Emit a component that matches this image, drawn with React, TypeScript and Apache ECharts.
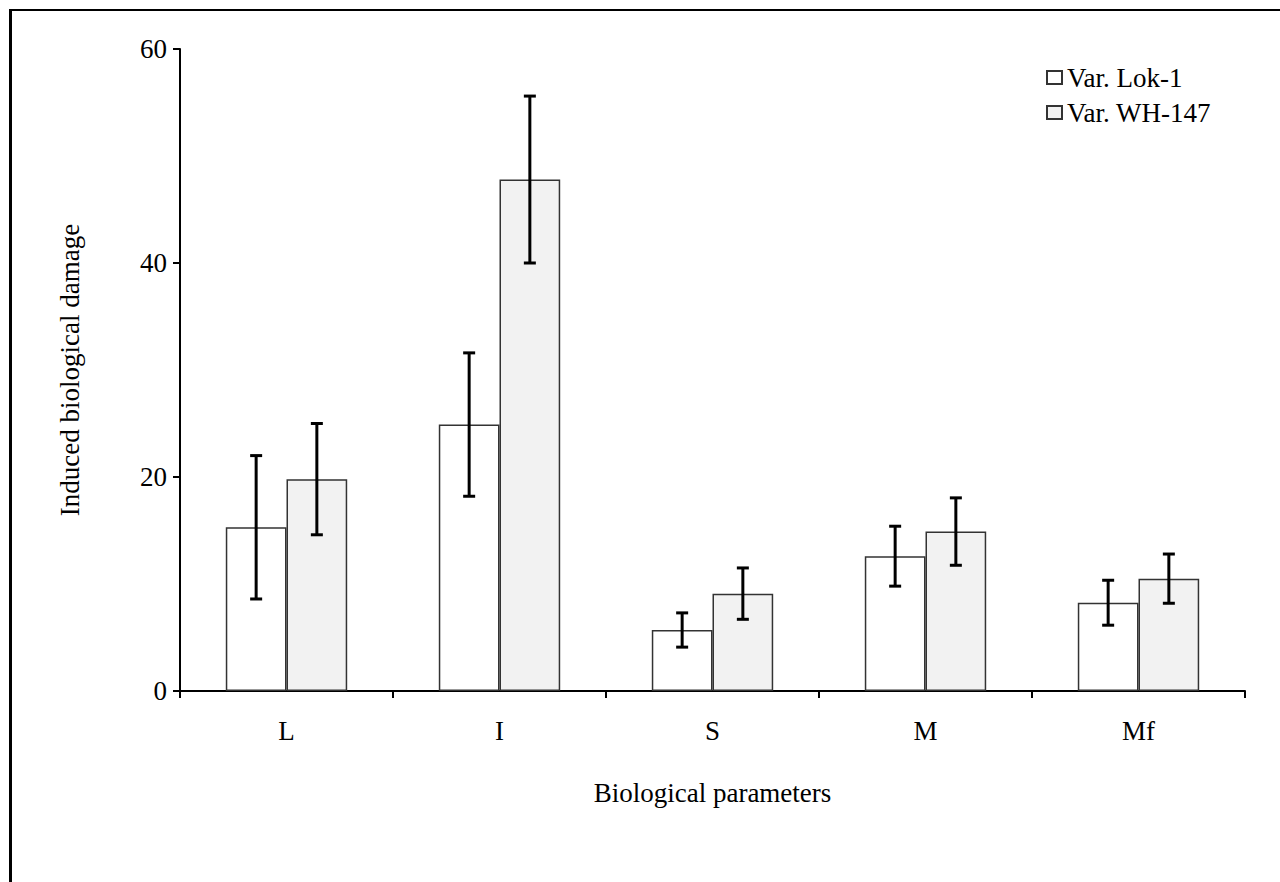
import React, { useEffect, useRef } from "react";
import * as echarts from "echarts";

const categories = ["L", "I", "S", "M", "Mf"];
const seriesNames = ["Var. Lok-1", "Var. WH-147"];
const lokValues = [15.3, 24.9, 5.7, 12.6, 8.25];
const lokErrors = [6.7, 6.7, 1.6, 2.8, 2.1];
const whValues = [19.8, 47.8, 9.1, 14.9, 10.5];
const whErrors = [5.2, 7.8, 2.4, 3.15, 2.3];
const yTicks = { min: 0, max: 60, interval: 20 };

const FONT = '"Liberation Serif", "Times New Roman", serif';
const FS = 27;
const GAP = 0.43;

export default function App() {
  const ref = useRef<HTMLDivElement>(null);
  useEffect(() => {
    if (!ref.current) return;
    const chart = echarts.init(ref.current, null, { renderer: "svg" });

    const makeErr = (values: number[], errs: number[], side: number) => ({
      type: "custom",
      name: "err" + side,
      silent: true,
      z: 10,
      data: values.map((v, i) => [i, v - errs[i], v + errs[i]]),
      renderItem: (params: any, api: any) => {
        const ci = api.value(0);
        const lo = api.coord([ci, api.value(1)]);
        const hi = api.coord([ci, api.value(2)]);
        const band = api.size([1, 0])[0];
        const barW = (band * (1 - GAP)) / 2;
        const x = lo[0] + (side * barW) / 2;
        const cap = 6;
        const style = { stroke: "#000", lineWidth: 3 };
        return {
          type: "group",
          children: [
            { type: "line", shape: { x1: x, y1: lo[1], x2: x, y2: hi[1] }, style },
            { type: "line", shape: { x1: x - cap, y1: hi[1], x2: x + cap, y2: hi[1] }, style },
            { type: "line", shape: { x1: x - cap, y1: lo[1], x2: x + cap, y2: lo[1] }, style },
          ],
        };
      },
    });

    chart.setOption({
      animation: false,
      backgroundColor: "#fff",
      textStyle: { fontFamily: FONT },
      grid: { left: 180, right: 35, top: 49, bottom: 191 },
      legend: {
        data: seriesNames,
        orient: "vertical",
        left: 1041,
        top: 59,
        itemWidth: 15,
        itemHeight: 13,
        itemGap: 8,
        icon: "rect",
        textStyle: { fontFamily: FONT, fontSize: FS, color: "#000", padding: [0, 0, 0, 0] },
      },
      xAxis: {
        type: "category",
        data: categories,
        name: "Biological parameters",
        nameLocation: "middle",
        nameGap: 88,
        nameTextStyle: { fontFamily: FONT, fontSize: FS, color: "#000" },
        axisLine: { lineStyle: { color: "#000", width: 2 } },
        axisTick: { show: true, length: 7, lineStyle: { color: "#000", width: 2 } },
        axisLabel: { fontFamily: FONT, fontSize: FS, color: "#000", margin: 26 },
      },
      yAxis: {
        type: "value",
        min: yTicks.min,
        max: yTicks.max,
        interval: yTicks.interval,
        name: "Induced biological damage",
        nameLocation: "middle",
        nameGap: 97,
        nameRotate: 90,
        nameTextStyle: { fontFamily: FONT, fontSize: FS, color: "#000" },
        splitLine: { show: false },
        axisLine: { show: true, lineStyle: { color: "#000", width: 2 } },
        axisTick: { show: true, length: 7, lineStyle: { color: "#000", width: 2 } },
        axisLabel: { fontFamily: FONT, fontSize: FS, color: "#000", margin: 13 },
      },
      series: [
        {
          type: "bar",
          name: seriesNames[0],
          data: lokValues,
          barGap: "0%",
          barCategoryGap: GAP * 100 + "%",
          itemStyle: { color: "#ffffff", borderColor: "#333", borderWidth: 1.5 },
        },
        {
          type: "bar",
          name: seriesNames[1],
          data: whValues,
          barGap: "0%",
          barCategoryGap: GAP * 100 + "%",
          itemStyle: { color: "#f2f2f2", borderColor: "#333", borderWidth: 1.5 },
        },
        makeErr(lokValues, lokErrors, -1),
        makeErr(whValues, whErrors, 1),
      ],
      graphic: [
        { type: "line", shape: { x1: 10, y1: 10, x2: 1280, y2: 10 }, style: { stroke: "#000", lineWidth: 2 } },
        { type: "line", shape: { x1: 10.5, y1: 9, x2: 10.5, y2: 882 }, style: { stroke: "#000", lineWidth: 3 } },
      ],
    });
    return () => chart.dispose();
  }, []);
  return (
    <div
      ref={ref}
      style={{ position: "fixed", left: 0, top: 0, width: 1280, height: 882 }}
    />
  );
}
